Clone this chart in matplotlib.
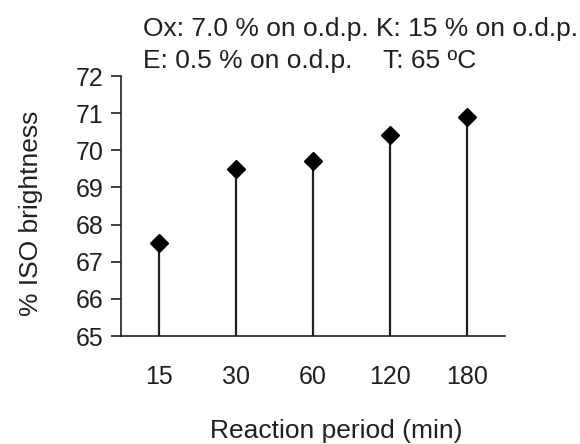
import matplotlib
matplotlib.use("Agg")
import matplotlib.pyplot as plt

plt.rcParams['font.family'] = ['Liberation Sans', 'DejaVu Sans']

periods = ["15", "30", "60", "120", "180"]
brightness = [67.5, 69.5, 69.7, 70.4, 70.9]
y_ticks = [65, 66, 67, 68, 69, 70, 71, 72]

ink = '#231f20'
W, H = 580, 444

fig = plt.figure(figsize=(W / 100, H / 100), dpi=100)
ax = fig.add_axes([121 / W, 1 - 336 / H, (505 - 121) / W, (336 - 76) / H])

x = list(range(len(periods)))
ax.vlines(x, y_ticks[0], brightness, color=ink, lw=1.6, zorder=2)
ax.plot(x, brightness, linestyle='none', marker='D', ms=9.5,
        color='black', zorder=3)

ax.set_xlim(-0.5, len(periods) - 0.5)
ax.set_ylim(y_ticks[0], y_ticks[-1])
ax.set_yticks(y_ticks)
ax.set_xticks(x)
ax.set_xticklabels(periods)

for side in ('top', 'right'):
    ax.spines[side].set_visible(False)
for side in ('left', 'bottom'):
    ax.spines[side].set_color(ink)
    ax.spines[side].set_linewidth(1.2)

ax.tick_params(axis='y', direction='out', length=7, width=1.2, color=ink,
               labelsize=18, labelcolor=ink, pad=5.5)
ax.tick_params(axis='x', length=0, labelsize=18, labelcolor=ink, pad=21)

# axis titles
fig.text(336 / W, 1 - 438 / H, "Reaction period (min)", fontsize=19,
         color=ink, ha='center', va='baseline')
fig.text(31 / W, 1 - 213 / H, "% ISO brightness", fontsize=19, color=ink,
         ha='center', va='center', rotation=90)

# reaction conditions
fig.text(143 / W, 1 - 36 / H, "Ox: 7.0 % on o.d.p. K: 15 % on o.d.p.",
         fontsize=19, color=ink, ha='left', va='baseline')
fig.text(143 / W, 1 - 68 / H, "E: 0.5 % on o.d.p.",
         fontsize=19, color=ink, ha='left', va='baseline')
fig.text(383 / W, 1 - 68 / H, "T: 65 ºC",
         fontsize=19, color=ink, ha='left', va='baseline')

fig.savefig("out.png", dpi=100)
